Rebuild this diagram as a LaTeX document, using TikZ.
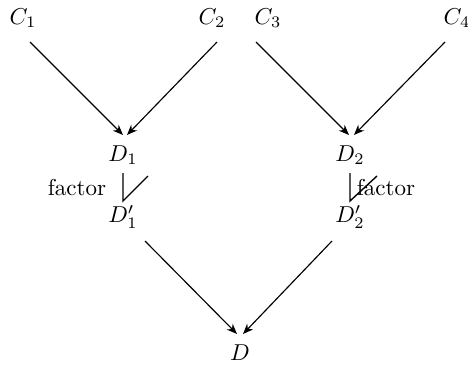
\documentclass[tikz,border=0pt]{standalone}
\usetikzlibrary{arrows.meta,calc}
\begin{document}
\begin{tikzpicture}[x=0.435pt,y=-0.435pt,
  lbl/.style={inner sep=0pt,anchor=center},
  arr/.style={line width=0.5pt,-{Stealth[length=4.5pt,width=3.6pt]}},
  fac/.style={line width=0.6pt}]
\useasboundingbox (0,0) rectangle (468,367);
\node[lbl] (C1) at (23,18) {$C_1$};
\node[lbl] (C2) at (212,18) {$C_2$};
\node[lbl] (C3) at (268,18) {$C_3$};
\node[lbl] (C4) at (457,18) {$C_4$};
\node[lbl] (D1) at (123,155) {$D_1$};
\node[lbl] (D2) at (350,155) {$D_2$};
\node[lbl] (D1p) at (123,217) {$D_1'$};
\node[lbl] (D2p) at (350,217) {$D_2'$};
\node[lbl] (D) at (240,353) {$D$};
\node[lbl] (f1) at (77,188) {factor};
\node[lbl] (f2) at (386,188) {factor};
\draw[arr] ($(C1)+(7,24)$) -- ($(D1)+(0,-20)$);
\draw[arr] ($(C2)+(5,24)$) -- ($(D1)+(4,-20)$);
\draw[arr] ($(C3)+(-12,24)$) -- ($(D2)+(-1,-20)$);
\draw[arr] ($(C4)+(-12,24)$) -- ($(D2)+(4,-20)$);
\draw[arr] ($(D1p)+(22,24)$) -- ($(D)+(-3,-19)$);
\draw[arr] ($(D2p)+(-18,24)$) -- ($(D)+(3,-19)$);
\draw[fac] ($(D1)+(0,18)$) -- ($(D1p)+(0,-16)$) -- ++(25,-25);
\draw[fac] ($(D2)+(0,18)$) -- ($(D2p)+(0,-16)$) -- ++(27,-25);
\end{tikzpicture}
\end{document}
